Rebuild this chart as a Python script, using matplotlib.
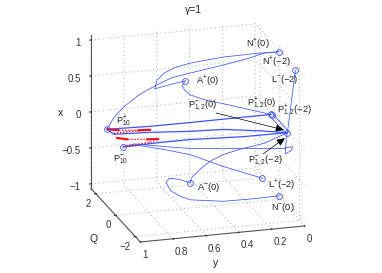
import matplotlib
matplotlib.use("Agg")
import matplotlib.pyplot as plt

plt.rcParams["font.family"] = "Liberation Sans"
plt.rcParams["mathtext.fontset"] = "custom"
plt.rcParams["mathtext.rm"] = "Liberation Sans"
plt.rcParams["mathtext.it"] = "Liberation Sans"
plt.rcParams["grid.linestyle"] = (0, (1, 3))
plt.rcParams["grid.color"] = "#a8a8a8"
plt.rcParams["grid.linewidth"] = 0.7

BLUE = "#3f55f5"
W, H = 382, 273

y_ticks = [0, 0.2, 0.4, 0.6, 0.8, 1]
q_ticks = [-2, 0, 2]
x_ticks = [-1, -0.5, 0, 0.5, 1]

# fixed points
pts_name = ["N+", "N-", "L-", "L+", "A+", "A-", "P10+", "P10-", "P12(0)", "P12-(0)", "P12(-2)"]
pts_y = [0.006, 0.003, 0.025, 0.226, 0.576, 0.546, 0.995, 1.0, 0.055, 0.05, 0.074]
pts_q = [0, 0, -2, -2, 0, 0, 1, -0.77, 0, 0, -2]
pts_x = [0.986, -1.017, 1.03, -0.427, 0.708, -0.718, -0.02, 0.0, 0.125, 0.115, 0.174]

# P10+ to N+
c1_y = [0.995, 0.95, 0.888, 0.827, 0.735, 0.662, 0.546, 0.345, 0.186, 0.095, 0.006]
c1_q = [1, 1, 1, 0.5, 0.5, 0, 0, 0, 0, 0, 0]
c1_x = [-0.02, 0.135, 0.273, 0.497, 0.595, 0.769, 0.811, 0.877, 0.939, 0.988, 0.986]
# A+ to N+ with the cusp
c2_y = [0.576, 0.674, 0.762, 0.747, 0.704, 0.631, 0.546, 0.345, 0.155, 0.006]
c2_q = [0, 0, 0, 0, 0, 0, 0, 0, 0, 0]
c2_x = [0.708, 0.675, 0.639, 0.76, 0.847, 0.913, 0.949, 0.988, 0.994, 0.986]
# A+ to P12(0)
c3_y = [0.576, 0.595, 0.576, 0.546, 0.46, 0.345, 0.186, 0.055]
c3_q = [0, 0, 0, 0, 0, 0, 0, 0]
c3_x = [0.708, 0.643, 0.57, 0.508, 0.421, 0.34, 0.223, 0.125]
# P10+ to P12(0)
c4_y = [0.995, 0.766, 0.546, 0.308, 0.055]
c4_q = [1, 0.5, 0, 0, 0]
c4_x = [-0.02, 0.044, 0.123, 0.125, 0.125]
# P10+ to P12(-2)
c5_y = [0.995, 0.95, 0.766, 0.546, 0.345, 0.245, 0.074]
c5_q = [1, 1, 0.5, 0, 0, -2, -2]
c5_x = [-0.02, -0.099, -0.039, 0.0, -0.018, 0.238, 0.174]
# P10- to P12(-2)
c6_y = [1.0, 0.795, 0.605, 0.342, 0.074]
c6_q = [-0.77, -1, -1, -2, -2]
c6_x = [0.0, 0.048, 0.048, 0.178, 0.174]
# P10- to L+
c7_y = [1.0, 0.916, 0.764, 0.605, 0.464, 0.226]
c7_q = [-0.77, -1, -1, -1, -2, -2]
c7_x = [0.0, 0.034, -0.055, -0.163, -0.209, -0.427]
# P10- through the hook up to L-
c8_y = [1.0, 0.947, 0.764, 0.605, 0.366, 0.098, 0.043, 0.05, 0.086, 0.082, 0.074, 0.025]
c8_q = [-0.77, -1, -1, -1, -2, -2, -2, -2, -2, -2, -2, -2]
c8_x = [0.0, 0.062, -0.014, -0.076, 0.018, -0.041, -0.026, -0.08, -0.117, 0.079, 0.174, 1.03]
# P12(0) to P12(-2), pair of lines
c9_y = [0.064, 0.083]
c9_q = [0, -2]
c9_x = [0.113, 0.161]
c10_y = [0.045, 0.065]
c10_q = [0, -2]
c10_x = [0.136, 0.185]
# A- loop to N-
c11_y = [0.546, 0.613, 0.674, 0.694, 0.663, 0.602, 0.546, 0.345, 0.155, 0.003]
c11_q = [0, 0, 0, 0, 0, 0, 0, 0, 0, 0]
c11_x = [-0.718, -0.652, -0.624, -0.68, -0.802, -0.894, -0.952, -1.017, -1.023, -1.017]
# A- to P12(-2)
c12_y = [0.546, 0.534, 0.491, 0.424, 0.338, 0.241, 0.095, 0.074]
c12_q = [0, 0, 0, 0, 0, 0, 0, -2]
c12_x = [-0.718, -0.638, -0.55, -0.441, -0.364, -0.315, -0.266, 0.174]

thin = [(c1_y, c1_q, c1_x), (c2_y, c2_q, c2_x), (c3_y, c3_q, c3_x), (c7_y, c7_q, c7_x),
        (c8_y, c8_q, c8_x), (c11_y, c11_q, c11_x), (c12_y, c12_q, c12_x),
        (c9_y, c9_q, c9_x), (c10_y, c10_q, c10_x)]
thick = [(c4_y, c4_q, c4_x), (c5_y, c5_q, c5_x), (c6_y, c6_q, c6_x)]

# red pieces near P10
r_thick = [([0.992, 0.919], [1, 1], [-0.02, -0.051]),
           ([0.809, 0.724], [1, 1], [-0.076, -0.087]),
           ([0.997, 0.924], [0, 0], [0.01, -0.028]),
           ([0.814, 0.735], [0, 0], [-0.052, -0.065])]
r_dots = [([0.919, 0.809], [1, 1], [-0.051, -0.076]),
          ([0.95, 0.754], [1, 1], [-0.085, -0.083]),
          ([0.924, 0.814], [0, 0], [-0.028, -0.052]),
          ([1.0, 0.825], [-0.77, -1], [0.004, 0.069])]

fig = plt.figure(figsize=(W / 100, H / 100), dpi=100)
ax = fig.add_axes([0.008, 0.008, 1.0, 1.0], projection="3d", proj_type="ortho")
ax.view_init(elev=19, azim=-106.7)
ax.set_box_aspect((1, 1, 0.945), zoom=1.037)
ax.set_xlim(1, 0)
ax.set_ylim(-2.5, 2.5)
ax.set_zlim(-1.065, 1.065)
ax.set_xticks(y_ticks)
ax.set_yticks(q_ticks)
ax.set_zticks(x_ticks)
ax.set_xticklabels(["0", "0.2", "0.4", "0.6", "0.8", "1"], ha="left")
ax.set_yticklabels(["\u22122", "0", "2"], ha="right")
ax.set_zticklabels(["\u22121", "\u22120.5", "0", "0.5", "1"], ha="right")
ax.tick_params(labelsize=7, colors="#333333", pad=-5)
ax.tick_params(axis="x", pad=-4)
ax.tick_params(axis="z", pad=-3)
for a in (ax.xaxis, ax.yaxis, ax.zaxis):
    a.set_pane_color((1, 1, 1, 0))
    a.pane.set_edgecolor((1, 1, 1, 0))
    a.line.set_color("#555555")
    a.line.set_linewidth(0.8)
    a._axinfo["tick"]["color"] = "#555555"
    a._axinfo["tick"]["outward_factor"] = 0.05
    a._axinfo["tick"]["inward_factor"] = 0.1

for cy, cq, cx in thin:
    ax.plot(cy, cq, cx, color=BLUE, lw=0.55)
for cy, cq, cx in thick:
    ax.plot(cy, cq, cx, color=BLUE, lw=0.9)
for cy, cq, cx in r_thick:
    ax.plot(cy, cq, cx, color="#f01020", lw=1.6, solid_capstyle="butt")
for cy, cq, cx in r_dots:
    ax.plot(cy, cq, cx, color="#f01020", lw=1.0, ls=(0, (1, 1.2)))
ax.plot(pts_y, pts_q, pts_x, ls="", marker="o", ms=4.2, mfc="none", mec=BLUE, mew=0.6)


def label(px, py, s, size=6.7):
    fig.text(px / W, 1 - py / H, s, fontsize=size, color="#222222", ha="left", va="center")


M = "\u2212"
label(246, 44, r"$\mathrm{N}^{+}$(0)")
label(262, 62, r"$\mathrm{N}^{+}$(" + M + "2)")
label(271, 79, r"$\mathrm{L}^{-}$(" + M + "2)")
label(196, 81, r"$\mathrm{A}^{+}$(0)")
label(247, 103, r"$\mathrm{P}^{+}_{1,2}$(0)")
label(277, 110, r"$\mathrm{P}^{+}_{1,2}$(" + M + "2)")
label(188, 106, r"$\mathrm{P}^{-}_{1,2}$(0)")
label(116, 121, r"$\mathrm{P}^{+}_{10}$")
label(113, 160, r"$\mathrm{P}^{-}_{10}$")
label(248, 161, r"$\mathrm{P}^{-}_{1,2}$(" + M + "2)")
label(197, 188, r"$\mathrm{A}^{-}$(0)")
label(268, 185, r"$\mathrm{L}^{+}$(" + M + "2)")
label(271, 208, r"$\mathrm{N}^{-}$(0)")
fig.text(194 / W, 1 - 10 / H, "\u03b3=1", fontsize=7.5, color="#222222", ha="center", va="center")
fig.text(61 / W, 1 - 113 / H, "x", fontsize=7.5, color="#222222", ha="center", va="center")
fig.text(94 / W, 1 - 239 / H, "Q", fontsize=7.5, color="#222222", ha="center", va="center")
fig.text(216 / W, 1 - 263 / H, "y", fontsize=7.5, color="#222222", ha="center", va="center")

for x0, y0, x1, y1 in [(216, 113, 284, 130), (263, 154, 285, 138)]:
    ax.annotate("", xy=(x1, H - y1), xytext=(x0, H - y0), xycoords="figure pixels",
                textcoords="figure pixels",
                arrowprops=dict(arrowstyle="-|>,head_length=0.5,head_width=0.22", color="black",
                                lw=0.5, shrinkA=0, shrinkB=0))

fig.savefig("out.png", dpi=100)
